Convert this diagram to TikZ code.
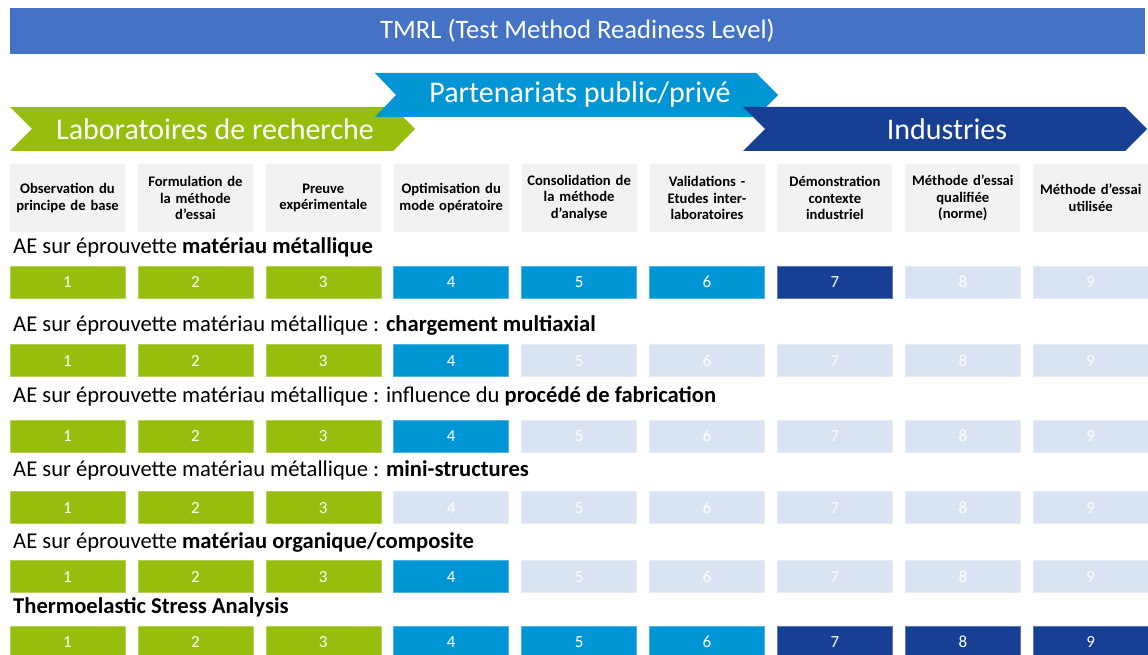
\documentclass[tikz,border=0pt]{standalone}
\usepackage{fontspec}
\setmainfont{Carlito}
\definecolor{tmrlblue}{HTML}{4472C4}
\definecolor{labgreen}{HTML}{97BE0D}
\definecolor{partcyan}{HTML}{0096D6}
\definecolor{indblue}{HTML}{173F93}
\definecolor{offblue}{HTML}{DAE3F3}
\definecolor{headgrey}{HTML}{F2F2F2}
\tikzset{
  lvl/.style={minimum width=115pt,minimum height=32pt,inner sep=0pt,text=white,
    text height=11pt,text depth=0pt,font=\fontsize{17}{19}\selectfont},
  head/.style={fill=headgrey,minimum width=115pt,minimum height=68pt,text width=115pt,
    align=center,inner sep=0pt,font=\fontsize{14.6}{16.6}\selectfont\bfseries},
  rowlab/.style={anchor=west,inner sep=0pt,font=\fontsize{22.6}{26}\selectfont},
  chev/.style={text=white,font=\fontsize{30}{34}\selectfont},
}
\begin{document}
\begin{tikzpicture}[x=1pt,y=-1pt]
\useasboundingbox (0,0) rectangle (1148,655);
\def\dx{127.9}
% title bar
\node[fill=tmrlblue,minimum width=1135pt,minimum height=46pt,inner sep=0pt,text=white,
  font=\fontsize{26.6}{30}\selectfont] (tmrl) at (577.5,31) {TMRL (Test Method Readiness Level)};
% chevrons
\fill[labgreen] (10,107) -- (393,107) -- (415,129) -- (393,151) -- (10,151) -- (32,129) -- cycle;
\node[chev] (labo) at (215,129) {Laboratoires de recherche};
\fill[partcyan] (375,73) -- (756,73) -- (778,95) -- (756,117) -- (375,117) -- (396,95) -- cycle;
\node[chev] (part) at (580,95) {Partenariats public/privé};
\fill[indblue] (743,107) -- (1125,107) -- (1147,129) -- (1125,151) -- (743,151) -- (765,129) -- cycle;
\node[chev] (indus) at (947,129) {Industries};
% level descriptions
\foreach \t [count=\c] in {Observation du\\principe de base,
  Formulation de\\la méthode\\d’essai,
  Preuve\\expérimentale,
  Optimisation du\\mode opératoire,
  Consolidation de\\la méthode\\d’analyse,
  Validations -\\Etudes inter-\\laboratoires,
  Démonstration\\contexte\\industriel,
  Méthode d’essai\\qualifiée\\(norme),
  Méthode d’essai\\utilisée}
  \node[head] (h\c) at ({67.5+(\c-1)*\dx},198) {\t};
% methods
\node[rowlab] (m1) at (13,247) {AE sur éprouvette \textbf{matériau métallique}};
\node[rowlab] (m2) at (13,325) {AE sur éprouvette matériau métallique : \textbf{chargement multiaxial}};
\node[rowlab] (m3) at (13,396) {AE sur éprouvette matériau métallique : influence du \textbf{procédé de fabrication}};
\node[rowlab] (m4) at (13,470) {AE sur éprouvette matériau métallique : \textbf{mini-structures}};
\node[rowlab] (m5) at (13,542) {AE sur éprouvette \textbf{matériau organique/composite}};
\node[rowlab] (m6) at (13,607) {\textbf{Thermoelastic Stress Analysis}};
% level boxes
\foreach \r/\y/\cols in {
  1/282/{labgreen,labgreen,labgreen,partcyan,partcyan,partcyan,indblue,offblue,offblue},
  2/360.5/{labgreen,labgreen,labgreen,partcyan,offblue,offblue,offblue,offblue,offblue},
  3/436/{labgreen,labgreen,labgreen,partcyan,offblue,offblue,offblue,offblue,offblue},
  4/507.5/{labgreen,labgreen,labgreen,offblue,offblue,offblue,offblue,offblue,offblue},
  5/576.5/{labgreen,labgreen,labgreen,partcyan,offblue,offblue,offblue,offblue,offblue},
  6/642/{labgreen,labgreen,labgreen,partcyan,partcyan,partcyan,indblue,indblue,indblue}}
  \foreach \col [count=\c] in \cols
    \node[lvl,fill=\col,draw=\col!70!white,line width=0.6pt] (b\r\c) at ({67.5+(\c-1)*\dx},\y) {\c};
\end{tikzpicture}
\end{document}
